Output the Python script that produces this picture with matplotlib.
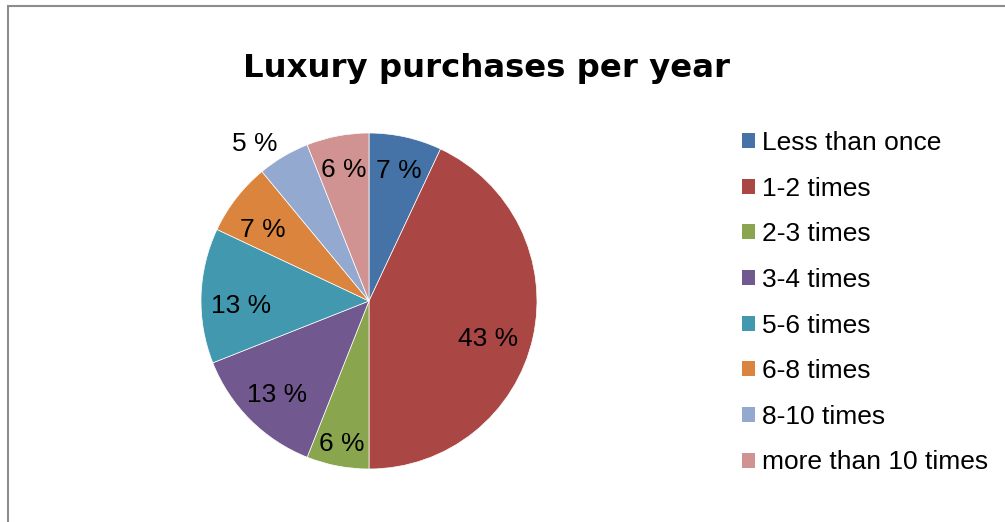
import numpy as np
import matplotlib.pyplot as plt
from matplotlib.patches import Patch, Rectangle

# data
categories = ["Less than once", "1-2 times", "2-3 times", "3-4 times",
              "5-6 times", "6-8 times", "8-10 times", "more than 10 times"]
shares = [7, 43, 6, 13, 13, 7, 5, 6]
colors = ["#4572A7", "#AA4643", "#89A54E", "#71588F",
          "#4198AF", "#DB843D", "#93A9CF", "#D19392"]
# label placement (radius fraction, angle nudge in degrees)
label_dist = [0.81, 0.74, 0.85, 0.77, 0.76, 0.77, 1.17, 0.81]
label_nudge = [0, -4, 0, 0, 3, 3, 5, 0]

plt.rcParams['font.family'] = ['Liberation Sans', 'DejaVu Sans']

W, H = 1005, 522
fig = plt.figure(figsize=(W / 100, H / 100), dpi=100)

# grey chart frame
fig.patches.append(Rectangle((8 / W, -0.1), 1.2, 1 - 6 / H + 0.1, transform=fig.transFigure,
                             fill=False, edgecolor='#8c8c8c', linewidth=1.5))

cx, cy, r = 369, 301, 168
ax = fig.add_axes([(cx - r) / W, (H - cy - r) / H, 2 * r / W, 2 * r / H])
wedges, _ = ax.pie(shares, colors=colors, startangle=90, counterclock=False, radius=1,
                   wedgeprops=dict(edgecolor='white', linewidth=0.5))
ax.set_xlim(-1, 1)
ax.set_ylim(-1, 1)

for w, d, n, s in zip(wedges, label_dist, label_nudge, shares):
    ang = np.deg2rad((w.theta1 + w.theta2) / 2 + n)
    ax.text(d * np.cos(ang), d * np.sin(ang), f"{s} %", ha='center', va='center_baseline',
            fontsize=19, clip_on=False)

fig.text(486 / W, 1 - 77 / H, "Luxury purchases per year", ha='center', va='baseline',
         fontsize=23.3, fontweight='bold', family='DejaVu Sans')

handles = [Patch(facecolor=c, edgecolor='none') for c in colors]
fig.legend(handles, categories, loc='upper left', bbox_to_anchor=(742 / W, 1 - 131 / H),
           frameon=False, fontsize=19, handlelength=0.5, handleheight=0.5,
           handletextpad=0.27, labelspacing=0.82, borderpad=0, borderaxespad=0)

fig.savefig("out.png", dpi=100, facecolor='white')
